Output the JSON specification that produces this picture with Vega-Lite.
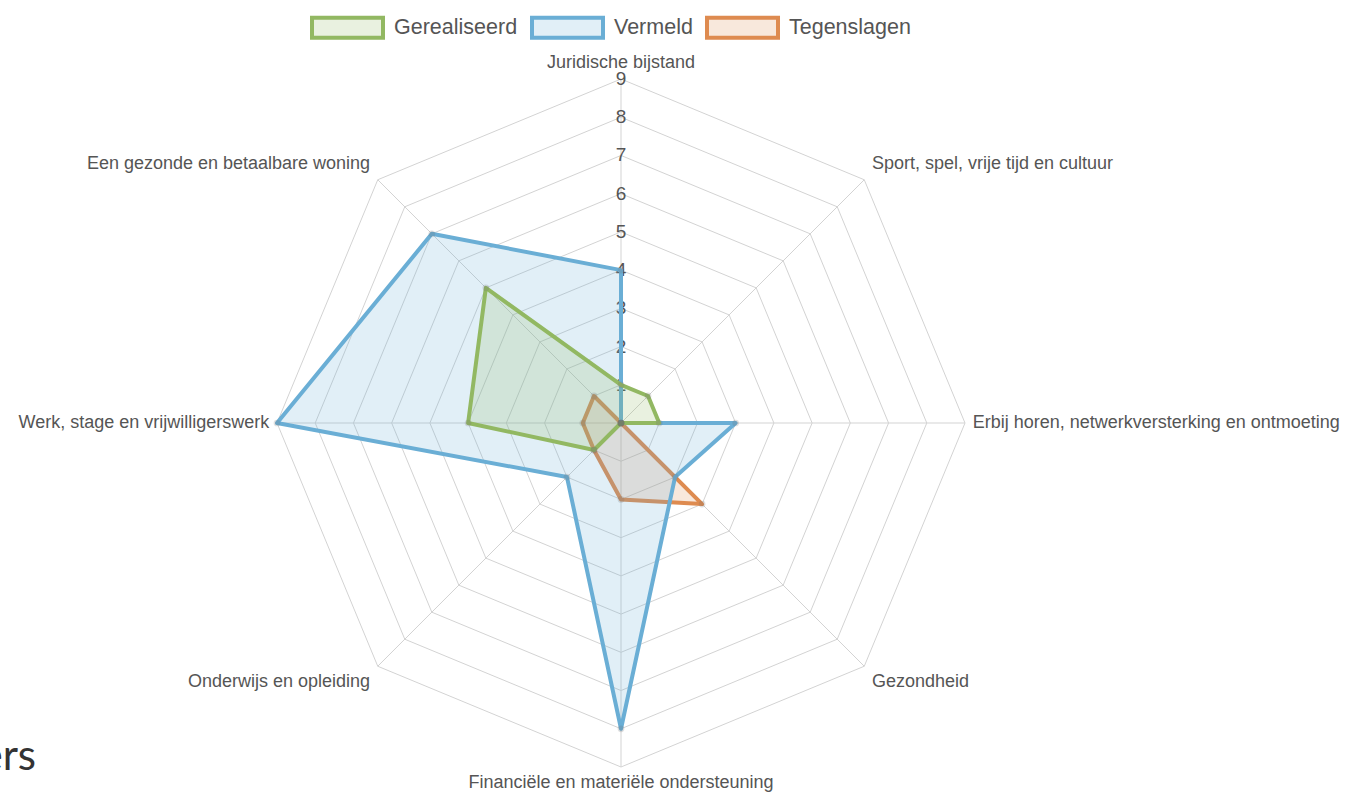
{
  "$schema": "https://vega.github.io/schema/vega-lite/v6.json",
  "width": 1348,
  "height": 792,
  "autosize": {"type": "none"},
  "padding": 0,
  "background": "white",
  "config": {"view": {"stroke": null}, "font": "Liberation Sans"},
  "title": {"text": "ers", "orient": "bottom", "anchor": "start", "align": "right", "dx": 36, "baseline": "alphabetic", "offset": -22, "fontSize": 42, "font": "Lato", "fontWeight": "normal", "color": "#333333"},
  "datasets": {
    "axes": [
      {"i": 0, "label": "Juridische bijstand", "levels": [1,2,3,4,5,6,7,8,9]},
      {"i": 1, "label": "Sport, spel, vrije tijd en cultuur", "levels": [1,2,3,4,5,6,7,8,9]},
      {"i": 2, "label": "Erbij horen, netwerkversterking en ontmoeting", "levels": [1,2,3,4,5,6,7,8,9]},
      {"i": 3, "label": "Gezondheid", "levels": [1,2,3,4,5,6,7,8,9]},
      {"i": 4, "label": "Financiële en materiële ondersteuning", "levels": [1,2,3,4,5,6,7,8,9]},
      {"i": 5, "label": "Onderwijs en opleiding", "levels": [1,2,3,4,5,6,7,8,9]},
      {"i": 6, "label": "Werk, stage en vrijwilligerswerk", "levels": [1,2,3,4,5,6,7,8,9]},
      {"i": 7, "label": "Een gezonde en betaalbare woning", "levels": [1,2,3,4,5,6,7,8,9]}
    ],
    "ticks": [{"v": 1},{"v": 2},{"v": 3},{"v": 4},{"v": 5},{"v": 6},{"v": 7},{"v": 8},{"v": 9}],
    "scores": [
      {"series": "Tegenslagen", "i": 0, "value": 0},
      {"series": "Tegenslagen", "i": 1, "value": 0},
      {"series": "Tegenslagen", "i": 2, "value": 0},
      {"series": "Tegenslagen", "i": 3, "value": 3},
      {"series": "Tegenslagen", "i": 4, "value": 2},
      {"series": "Tegenslagen", "i": 5, "value": 1},
      {"series": "Tegenslagen", "i": 6, "value": 1},
      {"series": "Tegenslagen", "i": 7, "value": 1},
      {"series": "Vermeld", "i": 0, "value": 4},
      {"series": "Vermeld", "i": 1, "value": 0},
      {"series": "Vermeld", "i": 2, "value": 3},
      {"series": "Vermeld", "i": 3, "value": 2},
      {"series": "Vermeld", "i": 4, "value": 8},
      {"series": "Vermeld", "i": 5, "value": 2},
      {"series": "Vermeld", "i": 6, "value": 9},
      {"series": "Vermeld", "i": 7, "value": 7},
      {"series": "Gerealiseerd", "i": 0, "value": 1},
      {"series": "Gerealiseerd", "i": 1, "value": 1},
      {"series": "Gerealiseerd", "i": 2, "value": 1},
      {"series": "Gerealiseerd", "i": 3, "value": 0},
      {"series": "Gerealiseerd", "i": 4, "value": 0},
      {"series": "Gerealiseerd", "i": 5, "value": 1},
      {"series": "Gerealiseerd", "i": 6, "value": 4},
      {"series": "Gerealiseerd", "i": 7, "value": 5}
    ]
  },
  "layer": [
    {
      "data": {"name": "axes"},
      "transform": [
        {"flatten": ["levels"]},
        {"calculate": "datum.levels*sin(datum.i*PI/4)", "as": "px"},
        {"calculate": "datum.levels*cos(datum.i*PI/4)", "as": "py"}
      ],
      "mark": {"type": "line", "interpolate": "linear-closed", "stroke": "#d3d3d3", "strokeWidth": 1},
      "encoding": {
        "x": {"field": "px", "type": "quantitative", "scale": {"domain": [-16.247, 19.02], "nice": false, "zero": false}, "axis": null},
        "y": {"field": "py", "type": "quantitative", "scale": {"domain": [-9.654, 11.067], "nice": false, "zero": false}, "axis": null},
        "detail": {"field": "levels", "type": "nominal"},
        "order": {"field": "i", "type": "quantitative"}
      }
    },
    {
      "data": {"name": "axes"},
      "transform": [
        {"calculate": "9*sin(datum.i*PI/4)", "as": "px"},
        {"calculate": "9*cos(datum.i*PI/4)", "as": "py"}
      ],
      "mark": {"type": "rule", "stroke": "#d3d3d3", "strokeWidth": 1},
      "encoding": {
        "x": {"field": "px", "type": "quantitative", "scale": {"domain": [-16.247, 19.02], "nice": false, "zero": false}, "axis": null},
        "y": {"field": "py", "type": "quantitative", "scale": {"domain": [-9.654, 11.067], "nice": false, "zero": false}, "axis": null},
        "x2": {"datum": 0},
        "y2": {"datum": 0}
      }
    },
    {
      "data": {"name": "ticks"},
      "transform": [
        {"calculate": "0", "as": "px"},
        {"calculate": "datum.v", "as": "py"}
      ],
      "mark": {"type": "text", "fontSize": 19, "color": "#555555", "align": "center", "baseline": "middle"},
      "encoding": {
        "x": {"field": "px", "type": "quantitative", "scale": {"domain": [-16.247, 19.02], "nice": false, "zero": false}, "axis": null},
        "y": {"field": "py", "type": "quantitative", "scale": {"domain": [-9.654, 11.067], "nice": false, "zero": false}, "axis": null},
        "text": {"field": "v", "type": "quantitative"}
      }
    },
    {
      "data": {"name": "scores"},
      "transform": [
        {"calculate": "datum.value*sin(datum.i*PI/4)", "as": "px"},
        {"calculate": "datum.value*cos(datum.i*PI/4)", "as": "py"}
      ],
      "mark": {"type": "line", "interpolate": "linear-closed", "strokeWidth": 4, "strokeJoin": "round"},
      "encoding": {
        "x": {"field": "px", "type": "quantitative", "scale": {"domain": [-16.247, 19.02], "nice": false, "zero": false}, "axis": null},
        "y": {"field": "py", "type": "quantitative", "scale": {"domain": [-9.654, 11.067], "nice": false, "zero": false}, "axis": null},
        "order": {"field": "i", "type": "quantitative"},
        "stroke": {
          "field": "series", "type": "nominal",
          "scale": {"domain": ["Gerealiseerd", "Vermeld", "Tegenslagen"], "range": ["#92b862", "#6aaed5", "#de8b50"]},
          "legend": {"orient": "none", "legendX": 310, "legendY": -10, "direction": "horizontal", "title": null, "symbolType": "M-1,-0.282H1V0.282H-1Z", "symbolSize": 5041, "symbolStrokeWidth": 4, "labelFontSize": 21.5, "labelFont": "Liberation Sans", "labelColor": "#555555", "labelOffset": 9, "columnPadding": 6, "padding": 0}
        },
        "fill": {
          "field": "series", "type": "nominal",
          "scale": {"domain": ["Gerealiseerd", "Vermeld", "Tegenslagen"], "range": ["rgba(146,184,98,0.2)", "rgba(106,174,213,0.2)", "rgba(222,139,80,0.2)"]},
          "legend": {"orient": "none", "legendX": 310, "legendY": -10, "direction": "horizontal", "title": null, "symbolType": "M-1,-0.282H1V0.282H-1Z", "symbolSize": 5041, "symbolStrokeWidth": 4, "labelFontSize": 21.5, "labelFont": "Liberation Sans", "labelColor": "#555555", "labelOffset": 9, "columnPadding": 6, "padding": 0}
        }
      }
    },
    {
      "data": {"name": "scores"},
      "transform": [
        {"calculate": "datum.value*sin(datum.i*PI/4)", "as": "px"},
        {"calculate": "datum.value*cos(datum.i*PI/4)", "as": "py"}
      ],
      "mark": {"type": "point", "filled": true, "size": 45, "fill": "rgba(110,110,110,0.3)", "strokeWidth": 0},
      "encoding": {
        "x": {"field": "px", "type": "quantitative", "scale": {"domain": [-16.247, 19.02], "nice": false, "zero": false}, "axis": null},
        "y": {"field": "py", "type": "quantitative", "scale": {"domain": [-9.654, 11.067], "nice": false, "zero": false}, "axis": null}
      }
    },
    {
      "data": {"name": "axes"},
      "transform": [
        {"calculate": "sin(datum.i*PI/4)", "as": "s"},
        {"calculate": "cos(datum.i*PI/4)", "as": "c"},
        {"calculate": "9*datum.s + (abs(datum.s) < 0.01 ? 0 : (datum.s > 0 ? 0.2 : -0.2))", "as": "px"},
        {"calculate": "9*datum.c + (abs(datum.c) < 0.01 ? 0 : (datum.c > 0 ? 0.42 : -0.42))", "as": "py"},
        {"calculate": "abs(datum.s) < 0.01 ? 'center' : (datum.s > 0 ? 'left' : 'right')", "as": "side"}
      ],
      "layer": [
        {
          "transform": [{"filter": "datum.side == 'center'"}],
          "mark": {"type": "text", "fontSize": 18, "color": "#555555", "align": "center", "baseline": "middle"},
          "encoding": {
            "x": {"field": "px", "type": "quantitative", "scale": {"domain": [-16.247, 19.02], "nice": false, "zero": false}, "axis": null},
            "y": {"field": "py", "type": "quantitative", "scale": {"domain": [-9.654, 11.067], "nice": false, "zero": false}, "axis": null},
            "text": {"field": "label", "type": "nominal"}
          }
        },
        {
          "transform": [{"filter": "datum.side == 'left'"}],
          "mark": {"type": "text", "fontSize": 18, "color": "#555555", "align": "left", "baseline": "middle"},
          "encoding": {
            "x": {"field": "px", "type": "quantitative", "scale": {"domain": [-16.247, 19.02], "nice": false, "zero": false}, "axis": null},
            "y": {"field": "py", "type": "quantitative", "scale": {"domain": [-9.654, 11.067], "nice": false, "zero": false}, "axis": null},
            "text": {"field": "label", "type": "nominal"}
          }
        },
        {
          "transform": [{"filter": "datum.side == 'right'"}],
          "mark": {"type": "text", "fontSize": 18, "color": "#555555", "align": "right", "baseline": "middle"},
          "encoding": {
            "x": {"field": "px", "type": "quantitative", "scale": {"domain": [-16.247, 19.02], "nice": false, "zero": false}, "axis": null},
            "y": {"field": "py", "type": "quantitative", "scale": {"domain": [-9.654, 11.067], "nice": false, "zero": false}, "axis": null},
            "text": {"field": "label", "type": "nominal"}
          }
        }
      ]
    }
  ]
}
